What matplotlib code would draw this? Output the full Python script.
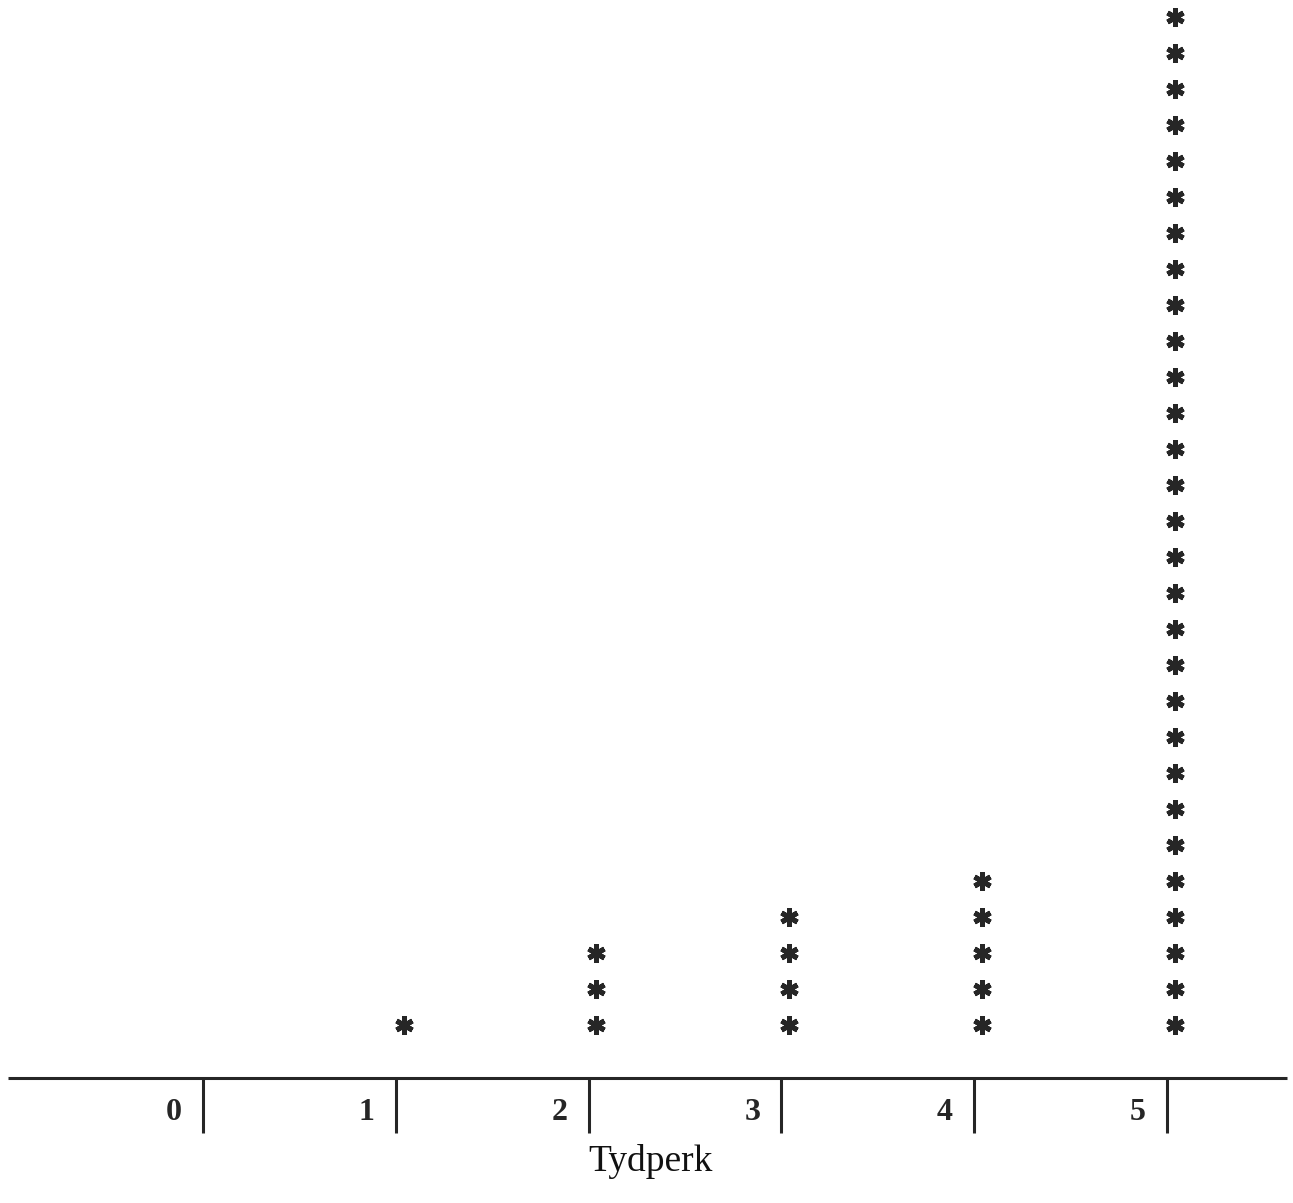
import matplotlib.pyplot as plt
import numpy as np

# Tydperk dot plot: one asterisk per case
periods = [0, 1, 2, 3, 4, 5]
counts = [0, 1, 3, 4, 5, 29]
tick_labels = ["0", "1", "2", "3", "4", "5"]
xlabel = "Tydperk"

INK = "#262626"

fig = plt.figure(figsize=(12.93, 12.03), dpi=100)
ax = fig.add_axes([0, 0, 1, 1])
ax.set_xlim(-1.053, 5.653)
ax.set_ylim(-3.94, 29.47)
ax.axis("off")

# stacked asterisks
for p, n in zip(periods, counts):
    if n == 0:
        continue
    ys = np.arange(1, n + 1)
    ax.plot(np.full(n, p + 0.04), ys, linestyle="none", marker=(6, 2, 0),
            markersize=13, markeredgewidth=3.6, color=INK)

# baseline and tick marks
ax.plot([-1.01, 5.62], [-0.47, -0.47], color=INK, linewidth=2.2,
        solid_capstyle="butt")
for p, lab in zip(periods, tick_labels):
    ax.plot([p, p], [-0.47, -2.0], color=INK, linewidth=2.2,
            solid_capstyle="butt")
    ax.text(p - 0.11, -1.42, lab, ha="right", va="center", fontsize=23,
            fontweight="bold", family="Liberation Serif", color=INK)

ax.text(2.32, -2.78, xlabel, ha="center", va="center", fontsize=27,
        family="Liberation Serif", color="#111111")

fig.savefig("out.png", dpi=100, facecolor="white")
plt.close(fig)
